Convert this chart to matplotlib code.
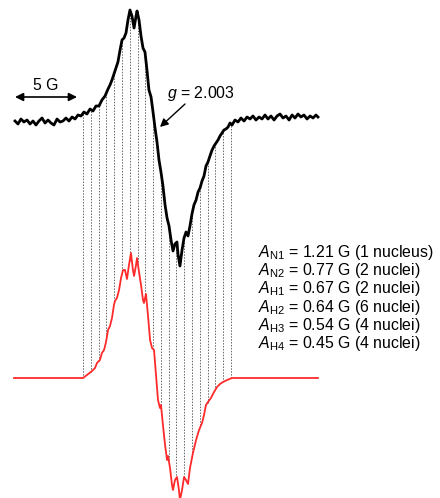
import numpy as np
import matplotlib
matplotlib.use("Agg")
import matplotlib.pyplot as plt

plt.rcParams['font.family'] = ['Liberation Sans', 'DejaVu Sans']
plt.rcParams['mathtext.fontset'] = 'custom'
plt.rcParams['mathtext.rm'] = 'Liberation Sans'
plt.rcParams['mathtext.it'] = 'Liberation Sans:italic'

# experimental spectrum (field offset in G, intensity in a.u.)
exp_field = [-11.45, -11.21, -10.97, -10.73, -10.48, -10.24, -10.00, -9.76, -9.52, -9.27,
             -9.03, -8.79, -8.55, -8.31, -8.06, -7.82, -7.58, -7.34, -7.10, -6.85,
             -6.61, -6.37, -6.13, -5.89, -5.65, -5.40, -5.16, -4.92, -4.68, -4.44,
             -4.19, -3.95, -3.79, -3.63, -3.47, -3.31, -3.15, -2.98, -2.82, -2.66,
             -2.50, -2.34, -2.18, -2.02, -1.85, -1.69, -1.61, -1.45, -1.29, -1.13,
             -0.97, -0.81, -0.65, -0.48, -0.32, -0.16, 0.00, 0.16, 0.32, 0.48,
             0.65, 0.81, 0.97, 1.13, 1.29, 1.45, 1.61, 1.69, 1.85, 2.02,
             2.18, 2.34, 2.50, 2.66, 2.82, 2.98, 3.15, 3.31, 3.47, 3.63,
             3.79, 3.95, 4.11, 4.27, 4.44, 4.60, 4.76, 4.92, 5.08, 5.24,
             5.40, 5.56, 5.73, 5.89, 6.05, 6.29, 6.53, 6.77, 7.02, 7.26,
             7.50, 7.74, 7.98, 8.23, 8.47, 8.71, 8.95, 9.19, 9.44, 9.68,
             9.92, 10.16, 10.40, 10.65, 10.89, 11.13, 11.37, 11.61, 11.85, 12.10,
             12.34, 12.58, 12.82, 12.98]
exp_signal = [-0.01, -0.04, 0.01, -0.02, 0.00, -0.04, -0.01, -0.05, -0.01, 0.02,
              -0.03, 0.00, -0.03, -0.05, 0.01, -0.02, -0.01, 0.02, -0.01, 0.03,
              0.01, 0.05, 0.04, 0.08, 0.06, 0.11, 0.09, 0.14, 0.14, 0.20,
              0.24, 0.31, 0.35, 0.40, 0.46, 0.52, 0.58, 0.70, 0.80, 0.82,
              0.87, 1.00, 1.10, 1.04, 0.92, 1.04, 1.09, 1.00, 0.84, 0.72,
              0.68, 0.50, 0.30, 0.23, 0.08, -0.08, -0.22, -0.40, -0.52, -0.66,
              -0.85, -0.98, -1.06, -1.20, -1.31, -1.24, -1.22, -1.34, -1.46, -1.30,
              -1.18, -1.12, -1.16, -1.06, -0.94, -0.85, -0.80, -0.72, -0.68, -0.61,
              -0.56, -0.46, -0.42, -0.36, -0.30, -0.26, -0.23, -0.20, -0.16, -0.13,
              -0.10, -0.09, -0.07, -0.03, -0.05, 0.00, -0.02, 0.02, -0.01, 0.03,
              0.01, 0.04, 0.00, 0.03, 0.01, 0.05, 0.01, 0.04, 0.00, 0.04,
              0.06, 0.02, 0.04, 0.00, 0.05, 0.02, 0.06, 0.03, 0.05, 0.01,
              0.04, 0.02, 0.05, 0.03]

# simulated spectrum
sim_field = [-11.53, -5.97, -5.65, -5.24, -5.00, -4.84, -4.60, -4.44, -4.27, -4.11,
             -3.95, -3.79, -3.63, -3.47, -3.39, -3.23, -3.06, -2.90, -2.74, -2.58,
             -2.42, -2.26, -2.10, -1.94, -1.85, -1.69, -1.61, -1.45, -1.29, -1.13,
             -1.05, -0.89, -0.73, -0.56, -0.40, -0.24, -0.08, 0.08, 0.24, 0.32,
             0.48, 0.65, 0.81, 0.89, 1.05, 1.21, 1.29, 1.45, 1.61, 1.77,
             1.85, 2.02, 2.18, 2.34, 2.50, 2.66, 2.90, 3.15, 3.39, 3.63,
             3.79, 3.95, 4.11, 4.35, 4.60, 4.84, 5.08, 5.32, 5.65, 6.05, 12.98]
sim_signal = [0.00, 0.00, 0.03, 0.07, 0.10, 0.15, 0.18, 0.25, 0.28, 0.36,
              0.48, 0.52, 0.60, 0.73, 0.77, 0.80, 0.88, 1.00, 1.08, 1.08,
              0.99, 1.13, 1.25, 1.08, 1.02, 1.13, 1.20, 1.06, 0.93, 0.78,
              0.75, 0.84, 0.63, 0.38, 0.30, 0.28, 0.03, -0.22, -0.30, -0.27,
              -0.47, -0.67, -0.82, -0.78, -0.90, -1.07, -1.12, -1.02, -0.99, -1.12,
              -1.22, -1.12, -0.99, -1.02, -1.06, -0.90, -0.75, -0.62, -0.52, -0.45,
              -0.37, -0.27, -0.24, -0.20, -0.14, -0.09, -0.06, -0.04, -0.02, 0.00, 0.00]

# hyperfine line positions (G)
line_pos = [-5.96, -5.33, -4.70, -4.08, -3.45, -2.82, -2.20, -1.57, -0.94, -0.31,
            0.31, 0.94, 1.57, 2.20, 2.82, 3.45, 4.08, 4.70, 5.33, 5.96]

labels = [r'$A_{\mathrm{N1}}$ = 1.21 G (1 nucleus)',
          r'$A_{\mathrm{N2}}$ = 0.77 G (2 nuclei)',
          r'$A_{\mathrm{H1}}$ = 0.67 G (2 nuclei)',
          r'$A_{\mathrm{H2}}$ = 0.64 G (6 nuclei)',
          r'$A_{\mathrm{H3}}$ = 0.54 G (4 nuclei)',
          r'$A_{\mathrm{H4}}$ = 0.45 G (4 nuclei)']

exp_off = 3.78
sim_off = 1.20

fig = plt.figure(figsize=(4.4, 4.98), dpi=100)
ax = fig.add_axes([0, 0, 1, 1])
ax.set_xlim(-12.66, 22.82)
ax.set_ylim(0, 4.98)
ax.axis('off')

exp_y = np.array(exp_signal) + exp_off
sim_y = np.array(sim_signal) + sim_off

# dotted lines linking the two spectra
for p in line_pos:
    top = np.interp(p, exp_field, exp_y)
    bot = np.interp(p, sim_field, sim_y)
    ax.plot([p, p], [bot, top], color='#666666', lw=0.7, ls=(0, (1.5, 1.5)), zorder=1)

ax.plot(exp_field, exp_y, color='black', lw=2.0, zorder=3)
ax.plot(sim_field, sim_y, color='#ff2a2a', lw=1.3, zorder=3)

# 5 G scale bar
ax.annotate('', xy=(-11.45, 4.01), xytext=(-6.45, 4.01),
            arrowprops=dict(arrowstyle='<|-|>', color='black', lw=1.2,
                            mutation_scale=12, shrinkA=0, shrinkB=0))
ax.text(-8.95, 4.13, '5 G', ha='center', va='center', fontsize=11.4)

# g value
ax.annotate('', xy=(0.24, 3.71), xytext=(2.26, 3.94),
            arrowprops=dict(arrowstyle='-|>', color='black', lw=1.0,
                            mutation_scale=12, shrinkA=0, shrinkB=0))
ax.text(0.81, 4.05, r'$g$ = 2.003', ha='left', va='center', fontsize=11.4)

ys = [2.46, 2.28, 2.10, 1.91, 1.73, 1.55]
for lab, yy in zip(labels, ys):
    ax.text(8.15, yy, lab, ha='left', va='center', fontsize=11.4)

fig.savefig('out.png', dpi=100)
